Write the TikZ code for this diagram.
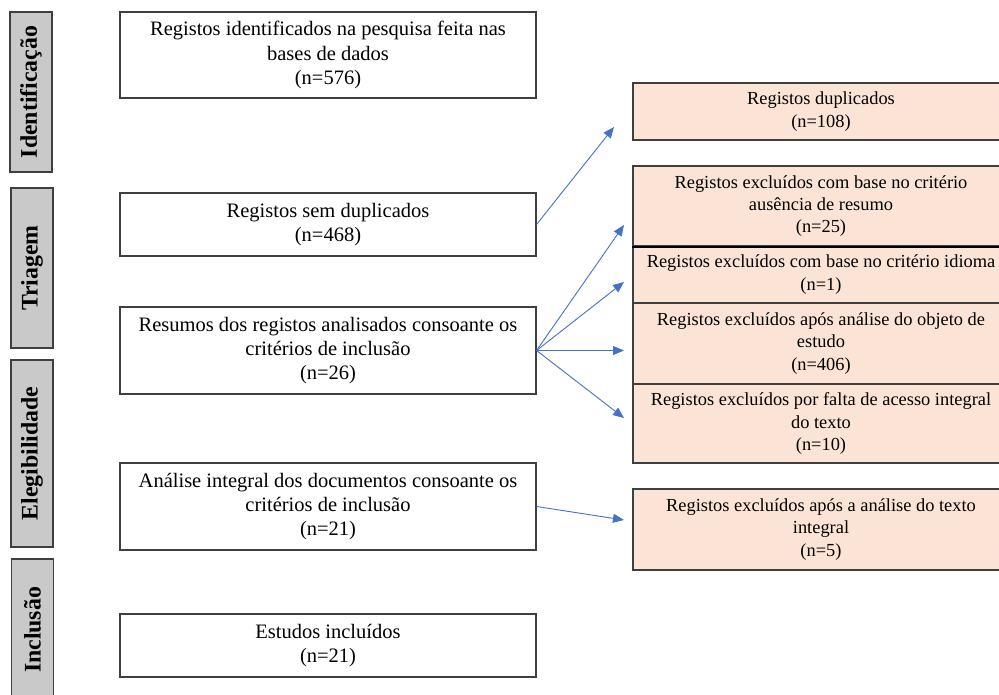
\documentclass[tikz,border=0pt]{standalone}
\usepackage{fontspec}
\setmainfont{Liberation Serif}
\usetikzlibrary{arrows.meta}
\definecolor{peach}{HTML}{FBE4D5}
\definecolor{lgray}{HTML}{C9C9C9}
\definecolor{edge}{HTML}{3F3F3F}
\definecolor{arrowblue}{HTML}{4472C4}
\tikzset{
  mainbox/.style={draw=edge, line width=1.1pt, fill=white, minimum width=416pt, inner sep=0pt, align=center, font=\fontsize{20.5}{24.4}\selectfont},
  exbox/.style={draw=edge, line width=1.1pt, fill=peach, minimum width=376pt, inner sep=0pt, align=center, font=\fontsize{18.4}{22.2}\selectfont},
  phase/.style={draw=edge, line width=1.3pt, fill=lgray, minimum height=42pt, inner sep=0pt, rotate=90, font=\fontsize{23.8}{26}\selectfont\bfseries},
  flow/.style={draw=arrowblue, line width=0.9pt, -{Triangle[length=11pt,width=9pt]}}
}
\begin{document}
\begin{tikzpicture}[x=1pt,y=-1pt]
\useasboundingbox (0,0) rectangle (999,695);
\clip (0,0) rectangle (999,695);
\fill[white] (0,0) rectangle (999,695);
% phase labels
\node[phase, minimum width=160pt] (p1) at (31,92) {Identificação};
\node[phase, minimum width=160pt] (p2) at (32,268) {Triagem};
\node[phase, minimum width=187pt] (p3) at (32,453.5) {Elegibilidade};
\node[phase, minimum width=142pt] (p4) at (32.5,630) {Inclusão};
% main boxes
\node[mainbox, minimum height=86pt] (b1) at (328,55) {Registos identificados na pesquisa feita nas\\bases de dados\\(n=576)};
\node[mainbox, minimum height=63pt] (b2) at (328,224.5) {Registos sem duplicados\\(n=468)};
\node[mainbox, minimum height=87pt] (b3) at (328,350.5) {Resumos dos registos analisados consoante os\\critérios de inclusão\\(n=26)};
\node[mainbox, minimum height=87pt] (b4) at (328,506.5) {Análise integral dos documentos consoante os\\critérios de inclusão\\(n=21)};
\node[mainbox, minimum height=63pt] (b5) at (328,645.5) {Estudos incluídos\\(n=21)};
% exclusion boxes
\node[exbox, minimum height=57pt] (r1) at (821,111.5) {Registos duplicados\\(n=108)};
\node[exbox, minimum height=80pt] (r2) at (821,206) {Registos excluídos com base no critério\\ausência de resumo\\(n=25)};
\node[exbox, minimum height=57pt] (r3) at (821,274.5) {Registos excluídos com base no critério idioma\\(n=1)};
\node[exbox, minimum height=81pt] (r4) at (821,343.5) {Registos excluídos após análise do objeto de\\estudo\\(n=406)};
\node[exbox, minimum height=79pt] (r5) at (821,423.5) {Registos excluídos por falta de acesso integral\\do texto\\(n=10)};
\node[exbox, minimum height=81pt] (r6) at (821,529.5) {Registos excluídos após a análise do texto\\integral\\(n=5)};
\draw[black, line width=2pt] (r2.south west) -- (r2.south east);
% arrow end points
\coordinate (e1) at (614,127);
\coordinate (e2) at (624,225);
\coordinate (e3) at (624,282);
\coordinate (e4) at (624,350.5);
\coordinate (e5) at (624,418);
\coordinate (e6) at (624,520);
\draw[flow] (b2.east) -- (e1);
\draw[flow] (b3.east) -- (e2);
\draw[flow] (b3.east) -- (e3);
\draw[flow] (b3.east) -- (e4);
\draw[flow] (b3.east) -- (e5);
\draw[flow] (b4.east) -- (e6);
\end{tikzpicture}
\end{document}
